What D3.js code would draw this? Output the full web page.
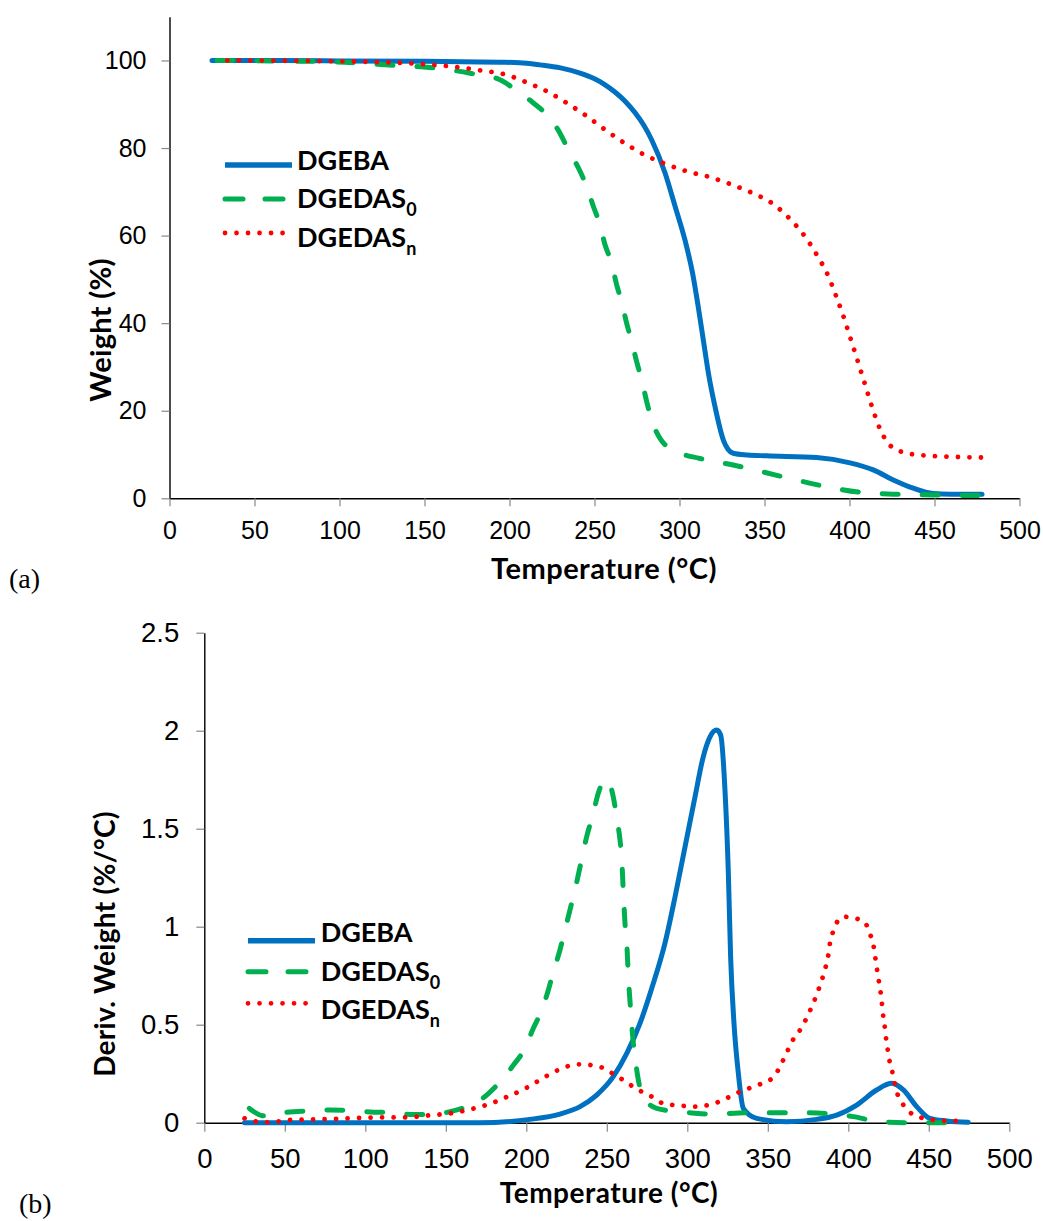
<!DOCTYPE html>
<html>
<head>
<meta charset="utf-8">
<script src="https://cdn.jsdelivr.net/npm/d3@7"></script>
<style>
  html, body { margin: 0; padding: 0; background: #fff; }
  svg { display: block; }
</style>
</head>
<body>
<svg id="chart" width="1043" height="1221"></svg>
<script>
// ---------------- DATA ----------------
const seriesNames = ["DGEBA", "DGEDAS", "DGEDAS"];
const seriesSubs = ["", "0", "n"];
const seriesColors = ["#0070C0", "#00B050", "#FF0000"];

const xTicks = [0, 50, 100, 150, 200, 250, 300, 350, 400, 450, 500];
const yTicksTGA = [0, 20, 40, 60, 80, 100];
const yTicksDTG = [0, 0.5, 1, 1.5, 2, 2.5];

// (a) Weight (%) vs Temperature (°C)
const tgaDGEBA = [[25,100],[60,100],[100,99.9],[150,99.8],[194,99.6],[206,99.5],[218,99.0],[230,98.3],[241.5,97.1],[250,95.8],[256,94.5],[262,92.8],[268,90.7],[274,88.0],[279,85.2],[283.6,81.9],[291.5,74.3],[297.4,66.7],[303.2,59.0],[307.7,51.4],[311,43.8],[314,36.2],[317,28.6],[320.9,20.9],[325.8,13.3],[328.5,11.2],[331.6,10.3],[340,9.9],[351.3,9.7],[380.7,9.3],[400.3,8.1],[414,6.5],[425.8,4.2],[437.5,2.3],[449.3,1.1],[460,0.95],[478,0.9]];
const tgaDGEDAS0 = [[28,100],[60,99.9],[96,99.7],[131.6,98.9],[153,98.4],[176.8,97.1],[194.4,95.6],[202.2,93.7],[214,90.3],[221.9,87.6],[229.7,83.4],[234.6,79.6],[241.5,74.7],[245.4,71.2],[249.3,66.7],[253.2,62.5],[256.2,57.9],[260.1,53.7],[263,48.8],[266,44.9],[268.9,40],[271.9,35.8],[274.8,31.2],[277.8,27],[280.7,22.1],[283.6,17.9],[288.5,13.7],[296.4,11],[312,9.1],[331.6,7.6],[361,4.9],[384.6,2.8],[408.1,1.3],[429.7,0.9],[449.3,0.75],[480,0.6]];
const tgaDGEDASn = [[34,100],[80,99.9],[116,99.7],[143.4,99.3],[164,98.7],[183.6,97.7],[197.4,96.8],[210.1,95],[222.8,92.8],[233.6,90.3],[245.4,87.3],[256.2,84.2],[267.4,81.2],[279.1,78.5],[291.5,76.4],[304.2,74.7],[317.5,73.4],[330.3,71.7],[343,69.7],[354.8,67.3],[365,63.8],[373.8,59.8],[381.1,55.4],[387.6,50.7],[392.5,45.8],[397,40.9],[401.1,35.9],[405.2,30.9],[409.3,25.8],[413.4,20.7],[418,15.8],[425.4,11.6],[438.1,10],[459.1,9.5],[480,9.3]];

// (b) Deriv. Weight (%/°C) vs Temperature (°C)
const dtgDGEBA = [[25,0],[100,0],[171,0],[202.3,0.017],[220.9,0.044],[233.4,0.082],[243.7,0.141],[254,0.235],[262.4,0.354],[270.6,0.507],[278.9,0.711],[286.1,0.915],[292.4,1.153],[298.6,1.408],[304.8,1.663],[309.9,1.867],[314.1,1.969],[318.3,2.003],[320.7,1.978],[323.4,1.697],[325.5,1.272],[326.9,0.847],[329,0.507],[331.7,0.252],[334.8,0.073],[343.1,0.022],[361.7,0.005],[380.4,0.017],[392.8,0.039],[405.2,0.09],[417.6,0.167],[427,0.201],[434.2,0.167],[442.5,0.082],[450.7,0.022],[461.1,0.009],[474.5,0.002]];
const dtgDGEDAS0 = [[28,0.073],[32,0.05],[36.6,0.035],[42,0.035],[51,0.053],[65,0.06],[78,0.065],[90,0.063],[103,0.055],[114,0.052],[128,0.042],[140,0.042],[152,0.055],[163,0.082],[175.4,0.141],[183.7,0.209],[192,0.294],[199.2,0.38],[204.3,0.481],[209.6,0.575],[213.7,0.677],[216.8,0.77],[220.9,0.881],[224,0.983],[227.1,1.085],[230.2,1.187],[233.4,1.306],[237.5,1.459],[241.6,1.579],[244.7,1.681],[247.8,1.74],[249.9,1.752],[254,1.663],[256.1,1.561],[258.2,1.442],[259.2,1.357],[260.2,1.187],[261.3,1.017],[262.4,0.915],[263.4,0.745],[264.8,0.575],[266.1,0.439],[267.5,0.337],[269.6,0.218],[272.7,0.133],[281,0.073],[295.5,0.056],[316.1,0.044],[336.9,0.051],[368,0.051],[390.7,0.044],[403.1,0.031],[419.7,0.005],[440.4,0],[468,0]];
const dtgDGEDASn = [[25,0.022],[32,0.007],[39,0.002],[46,0.007],[53,0.014],[67.6,0.017],[82.2,0.02],[96.3,0.024],[110.8,0.027],[125.1,0.027],[139.1,0.037],[153.7,0.049],[167.6,0.073],[174.3,0.088],[187.8,0.131],[200.6,0.18],[213,0.24],[226.1,0.289],[232.9,0.298],[240.2,0.294],[247.2,0.281],[253.4,0.252],[259.6,0.221],[265.4,0.189],[271.7,0.158],[277.9,0.133],[284.7,0.099],[291.3,0.09],[298.6,0.085],[305.8,0.082],[313,0.09],[319.7,0.107],[326.5,0.133],[332.7,0.158],[339.4,0.179],[346.2,0.2],[352.4,0.225],[356.5,0.269],[359.6,0.32],[362.7,0.374],[365.8,0.425],[370,0.473],[373.5,0.524],[376.6,0.579],[379.3,0.631],[381.8,0.686],[384.1,0.742],[386.1,0.8],[387.6,0.856],[388.6,0.915],[390.3,0.969],[393.2,1.026],[397.3,1.051],[404.2,1.043],[410.4,1.022],[413,0.969],[415.5,0.912],[416.6,0.852],[417.6,0.796],[418.6,0.74],[419.7,0.686],[420.7,0.622],[421.4,0.563],[422.4,0.507],[423.2,0.447],[424.2,0.388],[425.3,0.328],[427,0.272],[428.4,0.218],[430.1,0.158],[433.2,0.104],[437.3,0.06],[443.5,0.031],[450.3,0.017],[457.4,0.01],[464.6,0.009],[471.4,0.009]];

// ---------------- DRAWING ----------------
const svg = d3.select("#chart");
svg.append("rect").attr("width", 1043).attr("height", 1221).attr("fill", "#fff");

const styles = [
  { width: 5, dash: null, cap: "round" },
  { width: 5, dash: "16,24", cap: "round" },
  { width: 4.8, dash: "0.01,11.5", cap: "round" }
];

const tickFont = "'Liberation Sans', Arial, sans-serif";
const titleFont = "Lato, 'Open Sans', sans-serif";

function panel(cfg) {
  const x = d3.scaleLinear().domain([0, 500]).range([cfg.x0, cfg.x1]);
  const y = d3.scaleLinear().domain(cfg.yDomain).range([cfg.yBottom, cfg.yTop]);
  const g = svg.append("g");

  const xAxis = d3.axisBottom(x).tickValues(xTicks).tickSize(cfg.xTickSize).tickSizeOuter(0).tickPadding(cfg.xPad).tickFormat(d3.format("d"));
  const yAxis = d3.axisLeft(y).tickValues(cfg.yTicks).tickSize(8).tickSizeOuter(0).tickPadding(cfg.yPad).tickFormat(cfg.yFormat);

  const gx = g.append("g").attr("transform", `translate(0,${cfg.yBottom})`).call(xAxis);
  const gy = g.append("g").attr("transform", `translate(${cfg.x0},0)`).call(yAxis);
  [gx, gy].forEach(a => {
    a.select(".domain").attr("stroke", "#000").attr("stroke-width", 1.4);
    a.selectAll(".tick line").attr("stroke", "#888").attr("stroke-width", 1.2);
    a.selectAll(".tick text").attr("fill", "#000").style("font-family", tickFont).style("font-size", cfg.tickFs + "px");
  });

  const line = d3.line().x(d => x(d[0])).y(d => y(d[1])).curve(d3.curveMonotoneX);
  cfg.series.forEach((s, i) => {
    g.append("path").datum(s)
      .attr("d", line)
      .attr("fill", "none")
      .attr("stroke", seriesColors[i])
      .attr("stroke-width", styles[i].width)
      .attr("stroke-linecap", styles[i].cap)
      .attr("stroke-linejoin", "round")
      .attr("stroke-dasharray", styles[i].dash);
  });

  g.append("text")
    .attr("x", cfg.xTitleX).attr("y", cfg.xTitleY)
    .attr("text-anchor", "middle")
    .style("font-family", titleFont).style("font-weight", 700).style("font-size", cfg.titleFs + "px")
    .style("letter-spacing", "0.5px")
    .text("Temperature (°C)");
  g.append("text")
    .attr("transform", `translate(${cfg.yTitleX},${cfg.yTitleY}) rotate(-90)`)
    .attr("text-anchor", "middle")
    .style("font-family", titleFont).style("font-weight", 700).style("font-size", cfg.titleFs + "px")
    .style("letter-spacing", "0.3px")
    .text(cfg.yTitle);

  const lg = g.append("g");
  seriesNames.forEach((name, i) => {
    lg.append("line")
      .attr("x1", cfg.legX0).attr("x2", cfg.legX1)
      .attr("y1", cfg.legLineY[i]).attr("y2", cfg.legLineY[i])
      .attr("stroke", seriesColors[i])
      .attr("stroke-width", i === 0 ? 5.5 : styles[i].width)
      .attr("stroke-linecap", i === 0 ? "butt" : styles[i].cap)
      .attr("stroke-dasharray", i === 1 ? "18,22" : (i === 2 ? "0.01,11.5" : null));
    const t = lg.append("text")
      .attr("x", cfg.legTextX).attr("y", cfg.legTextY[i])
      .style("font-family", titleFont).style("font-weight", 700).style("font-size", cfg.legFs + "px")
      .attr("fill", "#000");
    t.append("tspan").text(name);
    if (seriesSubs[i]) {
      t.append("tspan").attr("dy", 8).style("font-size", "18px").text(seriesSubs[i]);
    }
  });

  svg.append("text")
    .attr("x", cfg.labX).attr("y", cfg.labY)
    .style("font-family", "'Liberation Serif', 'Times New Roman', serif")
    .style("font-size", "28px")
    .text(cfg.label);
}

panel({
  x0: 169.5, x1: 1019.5, yBottom: 498.3, yTop: 16.7, yDomain: [0, 110],
  yTicks: yTicksTGA, yFormat: d3.format("d"),
  xTickSize: 8, xPad: 15, yPad: 15, tickFs: 25,
  series: [tgaDGEBA, tgaDGEDAS0, tgaDGEDASn],
  xTitleX: 604, xTitleY: 579, yTitleX: 111, yTitleY: 330, yTitle: "Weight (%)", titleFs: 29,
  legX0: 225, legX1: 292, legLineY: [165, 199, 233], legTextX: 297, legTextY: [170, 208.3, 247.3], legFs: 27,
  label: "(a)", labX: 9, labY: 588
});

panel({
  x0: 204.3, x1: 1009.3, yBottom: 1122.7, yTop: 632.7, yDomain: [0, 2.5],
  yTicks: yTicksDTG, yFormat: d => String(d),
  xTickSize: 9, xPad: 17, yPad: 17, tickFs: 27.5,
  series: [dtgDGEBA, dtgDGEDAS0, dtgDGEDASn],
  xTitleX: 609, xTitleY: 1203, yTitleX: 115, yTitleY: 944, yTitle: "Deriv. Weight (%/°C)", titleFs: 28,
  legX0: 248, legX1: 315, legLineY: [940.7, 971.7, 1003.3], legTextX: 320.7, legTextY: [942.3, 980.7, 1019.3], legFs: 27,
  label: "(b)", labX: 19, labY: 1213
});
</script>
</body>
</html>
